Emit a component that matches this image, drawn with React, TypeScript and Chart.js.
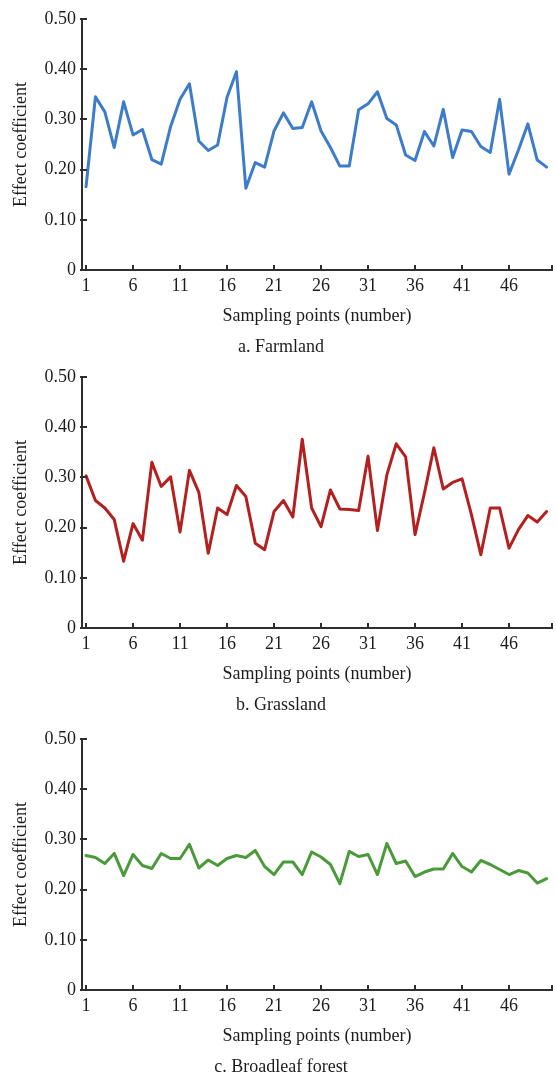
import React, { useEffect, useRef } from "react";
import { Chart, registerables } from "chart.js";

Chart.register(...registerables);

// ---------- data ----------
const samplingPoints = [
  1, 2, 3, 4, 5, 6, 7, 8, 9, 10,
  11, 12, 13, 14, 15, 16, 17, 18, 19, 20,
  21, 22, 23, 24, 25, 26, 27, 28, 29, 30,
  31, 32, 33, 34, 35, 36, 37, 38, 39, 40,
  41, 42, 43, 44, 45, 46, 47, 48, 49, 50,
];
const xTickValues = [1, 6, 11, 16, 21, 26, 31, 36, 41, 46];
const yTickValues = [0, 0.1, 0.2, 0.3, 0.4, 0.5];

const farmland = [
  0.166, 0.345, 0.315, 0.244, 0.335, 0.269, 0.28, 0.22, 0.211, 0.286,
  0.34, 0.371, 0.257, 0.238, 0.249, 0.344, 0.395, 0.163, 0.214, 0.205,
  0.277, 0.313, 0.282, 0.284, 0.335, 0.277, 0.244, 0.207, 0.207, 0.319,
  0.331, 0.355, 0.302, 0.289, 0.229, 0.218, 0.276, 0.247, 0.32, 0.224,
  0.279, 0.276, 0.246, 0.234, 0.34, 0.191, 0.239, 0.291, 0.219, 0.205,
];
const grassland = [
  0.303, 0.254, 0.239, 0.216, 0.133, 0.208, 0.175, 0.33, 0.282, 0.301,
  0.191, 0.314, 0.27, 0.149, 0.239, 0.226, 0.284, 0.262, 0.169, 0.156,
  0.232, 0.254, 0.221, 0.376, 0.239, 0.202, 0.275, 0.237, 0.236, 0.234,
  0.342, 0.194, 0.305, 0.367, 0.341, 0.186, 0.269, 0.359, 0.277, 0.29,
  0.297, 0.226, 0.146, 0.239, 0.239, 0.159, 0.196, 0.224, 0.211, 0.232,
];
const broadleafForest = [
  0.268, 0.264, 0.252, 0.272, 0.228, 0.27, 0.248, 0.242, 0.272, 0.262,
  0.262, 0.29, 0.243, 0.259, 0.248, 0.262, 0.268, 0.264, 0.278, 0.246,
  0.23, 0.255, 0.255, 0.23, 0.275, 0.265, 0.25, 0.212, 0.276, 0.266,
  0.27, 0.23, 0.292, 0.252, 0.257, 0.226, 0.235, 0.241, 0.241, 0.272,
  0.246, 0.235, 0.258, 0.25, 0.24, 0.23, 0.238, 0.233, 0.213, 0.222,
];

const panelCaptions = ["a. Farmland", "b. Grassland", "c. Broadleaf forest"];
const yAxisTitle = "Effect coefficient";
const xAxisTitle = "Sampling points (number)";

// ---------- layout / style ----------
const X_MIN = 0.57;
const X_MAX = 50.57;
const FONT = '"Liberation Serif", "Times New Roman", serif';
const TEXT = "#1c1c1c";
const AXIS = "#2e2e2e";

const inwardTicks = {
  id: "inwardTicks",
  afterDraw(chart: any) {
    const { ctx, chartArea, scales } = chart;
    const xs = scales.x;
    const ys = scales.y;
    ctx.save();
    ctx.strokeStyle = AXIS;
    ctx.lineWidth = 2;
    ctx.beginPath();
    [...xTickValues, X_MAX].forEach((v) => {
      const px = Math.round(xs.getPixelForValue(v));
      ctx.moveTo(px, chartArea.bottom);
      ctx.lineTo(px, chartArea.bottom - 5);
    });
    yTickValues.forEach((v) => {
      const py = Math.round(ys.getPixelForValue(v));
      ctx.moveTo(chartArea.left - 2, py);
      ctx.lineTo(chartArea.left + 5, py);
    });
    ctx.stroke();
    ctx.restore();
  },
};

function Panel(props: {
  values: number[];
  color: string;
  top: number;
  height: number;
  caption: string;
}) {
  const ref = useRef<HTMLCanvasElement | null>(null);
  const { values, color, top, height, caption } = props;

  useEffect(() => {
    if (!ref.current) return;
    const chart = new Chart(ref.current, {
      type: "line",
      data: {
        datasets: [
          {
            data: samplingPoints.map((x, i) => ({ x, y: values[i] })),
            borderColor: color,
            borderWidth: 3,
            borderJoinStyle: "round",
            borderCapStyle: "round",
            pointRadius: 0,
            tension: 0,
            fill: false,
          },
        ],
      },
      options: {
        animation: false,
        responsive: false,
        maintainAspectRatio: false,
        layout: { padding: { left: 0, right: 3, top: 19, bottom: height - 326.8 } },
        plugins: {
          legend: { display: false },
          tooltip: { enabled: false },
        },
        scales: {
          x: {
            type: "linear",
            min: X_MIN,
            max: X_MAX,
            grid: { display: false, drawTicks: false },
            border: { display: true, color: AXIS, width: 2 },
            afterBuildTicks: (s: any) => {
              s.ticks = [...xTickValues, X_MAX].map((v) => ({ value: v }));
            },
            ticks: {
              autoSkip: false,
              maxRotation: 0,
              padding: 5,
              color: TEXT,
              font: { family: FONT, size: 18 },
              callback: (v: any) => (xTickValues.includes(v) ? String(v) : ""),
            },
            title: {
              display: true,
              text: xAxisTitle,
              color: TEXT,
              font: { family: FONT, size: 18 },
              padding: { top: 0, bottom: 0 },
            },
            afterFit: (s: any) => {
              s.height = 56.8;
            },
          },
          y: {
            type: "linear",
            min: 0,
            max: 0.5,
            grid: { display: false, drawTicks: false },
            border: { display: true, color: AXIS, width: 2 },
            afterBuildTicks: (s: any) => {
              s.ticks = yTickValues.map((v) => ({ value: v }));
            },
            ticks: {
              padding: 6,
              color: TEXT,
              font: { family: FONT, size: 18 },
              callback: (v: any) => (v === 0 ? "0" : Number(v).toFixed(2)),
            },
            title: {
              display: true,
              text: yAxisTitle,
              color: TEXT,
              font: { family: FONT, size: 18 },
              padding: { top: 10, bottom: 0 },
            },
            afterFit: (s: any) => {
              s.width = 82;
            },
          },
        },
      } as any,
      plugins: [inwardTicks],
    });
    return () => chart.destroy();
  }, [values, color, height]);

  return (
    <>
      <div style={{ position: "absolute", left: 0, top, width: 557, height }}>
        <canvas ref={ref} width={557} height={height} style={{ width: 557, height }} />
      </div>
      <div
        style={{
          position: "absolute",
          left: 0,
          top: top + 335,
          width: 562,
          textAlign: "center",
          fontFamily: FONT,
          fontSize: 18,
          lineHeight: "22px",
          color: TEXT,
        }}
      >
        {caption}
      </div>
    </>
  );
}

export default function App() {
  return (
    <div
      style={{
        position: "absolute",
        left: 0,
        top: 0,
        width: 557,
        height: 1074,
        background: "#fff",
        overflow: "hidden",
      }}
    >
      <Panel values={farmland} color="#3d7cc9" top={0} height={358} caption={panelCaptions[0]} />
      <Panel values={grassland} color="#b3201f" top={358} height={362} caption={panelCaptions[1]} />
      <Panel values={broadleafForest} color="#4a9a3a" top={720} height={354} caption={panelCaptions[2]} />
    </div>
  );
}
